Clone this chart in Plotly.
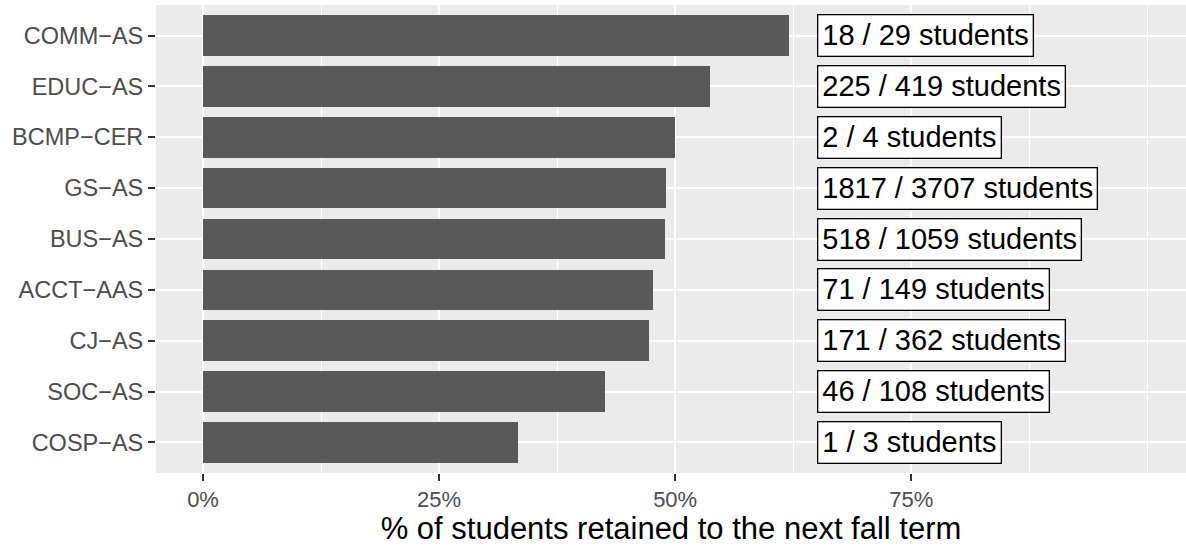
import plotly.graph_objects as go

programs = ["COMM−AS", "EDUC−AS", "BCMP−CER", "GS−AS", "BUS−AS",
            "ACCT−AAS", "CJ−AS", "SOC−AS", "COSP−AS"]
retained = [18, 225, 2, 1817, 518, 71, 171, 46, 1]
totals = [29, 419, 4, 3707, 1059, 149, 362, 108, 3]
rates = [r / t for r, t in zip(retained, totals)]
labels = [f"{r} / {t} students" for r, t in zip(retained, totals)]
label_x = 0.65
major_ticks = [0, 0.25, 0.5, 0.75]
major_text = ["0%", "25%", "50%", "75%"]
minor_ticks = [0.125, 0.375, 0.625, 0.875, 1.0]

FONT = "Liberation Sans, Arial, Helvetica, sans-serif"

fig = go.Figure()
fig.add_trace(go.Bar(
    x=rates, y=programs, orientation="h", width=0.8,
    marker=dict(color="#595959", line=dict(width=0)),
    hoverinfo="skip", showlegend=False,
))

for p, lab in zip(programs, labels):
    fig.add_annotation(
        x=label_x, y=p, xref="x", yref="y", text=lab, showarrow=False,
        xanchor="left", yanchor="middle",
        font=dict(family=FONT, size=29, color="black"),
        bgcolor="white", bordercolor="black", borderwidth=1.3, borderpad=4,
    )

fig.update_layout(
    width=1186, height=546,
    margin=dict(l=156, r=0, t=5, b=73),
    paper_bgcolor="white", plot_bgcolor="#EBEBEB",
    font=dict(family=FONT),
    bargap=0,
)
fig.update_xaxes(
    range=[-0.0498, 1.041],
    tickvals=major_ticks, ticktext=major_text,
    ticks="outside", ticklen=7, tickwidth=2, tickcolor="#333333",
    tickfont=dict(family=FONT, size=22, color="#4D4D4D"),
    showgrid=True, gridcolor="white", gridwidth=2.3,
    minor=dict(tickvals=minor_ticks, showgrid=True, gridcolor="white",
               gridwidth=1.2, ticks=""),
    zeroline=False, showline=False, automargin=False,
    title=dict(text="% of students retained to the next fall term",
               font=dict(family=FONT, size=31, color="black"), standoff=3),
)
fig.update_yaxes(
    categoryorder="array", categoryarray=programs[::-1],
    range=[-0.6, 8.6],
    ticks="outside", ticklen=7, tickwidth=2, tickcolor="#333333",
    tickfont=dict(family=FONT, size=23.5, color="#4D4D4D"),
    ticklabelstandoff=0, automargin=False,
    showgrid=True, gridcolor="white", gridwidth=2.3,
    zeroline=False, showline=False,
)

fig.write_html("out.html",
               config={"displayModeBar": False},
               post_script="document.body.style.margin='0px';"
                           "document.body.style.overflow='hidden';")
